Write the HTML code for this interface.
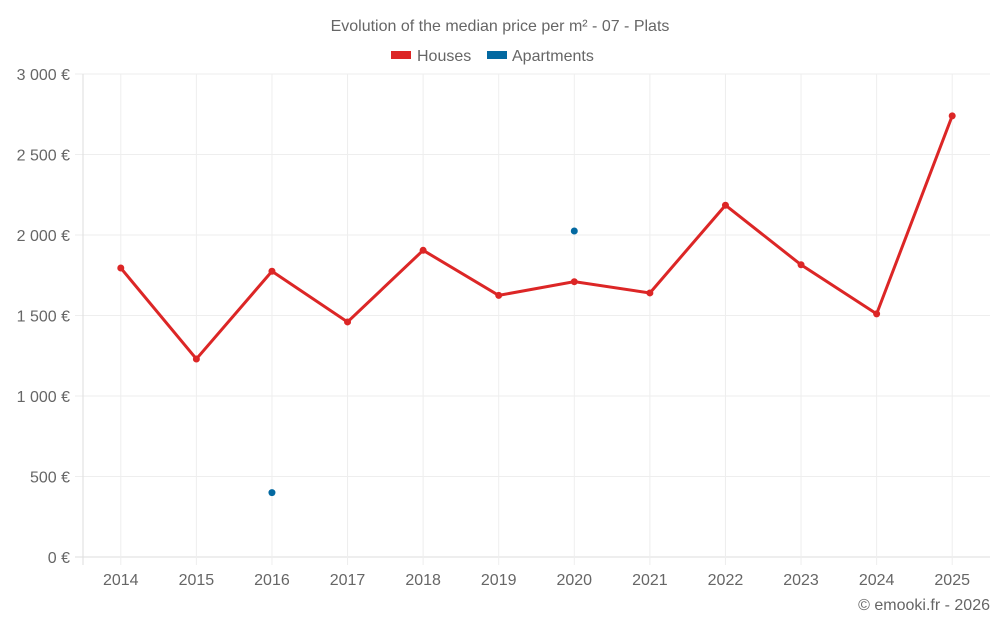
<!DOCTYPE html>
<html><head><meta charset="utf-8"><style>
body{margin:0;background:#fff;font-family:"Liberation Sans",sans-serif;}
svg text{font-family:"Liberation Sans",sans-serif;fill:#666;}
</style></head><body>
<svg id="c" width="1000" height="625">
<text x="500" y="31" text-anchor="middle" font-size="16">Evolution of the median price per m² - 07 - Plats</text>
<g><rect x="391" y="51" width="20" height="8" fill="#dc2626"/><text x="417" y="61" font-size="16">Houses</text></g>
<g><rect x="487" y="51" width="20" height="8" fill="#0369a1"/><text x="512" y="61" font-size="16">Apartments</text></g>
<g id="grid"></g><g id="marks"></g>
<text x="990" y="610" text-anchor="end" font-size="16">© emooki.fr - 2026</text>
</svg>
<script>
const categories=["2014","2015","2016","2017","2018","2019","2020","2021","2022","2023","2024","2025"];
const houses=[1795,1230,1775,1460,1905,1625,1710,1640,2185,1815,1510,2740];
const apartments=[null,null,400,null,null,null,2025,null,null,null,null,null];
const yTicks=[0,500,1000,1500,2000,2500,3000];
const yLabels=["0 €","500 €","1 000 €","1 500 €","2 000 €","2 500 €","3 000 €"];
const L=83,R=990,T=74,B=557,NS="http://www.w3.org/2000/svg";
const step=(R-L)/categories.length;
const x=i=>L+step*(i+0.5);
const y=v=>B-(v/3000)*(B-T);
const g=document.getElementById('grid'),m=document.getElementById('marks');
function el(t,a,p){const e=document.createElementNS(NS,t);for(const k in a)e.setAttribute(k,a[k]);p.appendChild(e);return e;}
yTicks.forEach((v,i)=>{
 const ln=el('line',{x1:L-8,x2:R,y1:y(v),y2:y(v),stroke:v===0?'#ddd':'#eee'},g);
 
 
 const t=el('text',{x:70,y:y(v)+6,'text-anchor':'end','font-size':16},g);t.textContent=yLabels[i];
 
 
});
el('line',{x1:L,x2:L,y1:T,y2:B+8,stroke:'#ddd'},g);
categories.forEach((c,i)=>{
 const ln=el('line',{x1:x(i),x2:x(i),y1:T,y2:B+8,stroke:'#eee'},g);
 
 
 const t=el('text',{x:x(i),y:585,'text-anchor':'middle','font-size':16},g);t.textContent=c;
 
 
});
const pl=el('polyline',{points:houses.map((v,i)=>x(i)+','+y(v)).join(' '),fill:'none',stroke:'#dc2626','stroke-width':3},m);


houses.forEach((v,i)=>{const p=el('circle',{cx:x(i),cy:y(v),r:3.5,fill:'#dc2626'},m);
 
 });
apartments.forEach((v,i)=>{if(v==null)return;const p=el('circle',{cx:x(i),cy:y(v),r:3.5,fill:'#0369a1'},m);
 
 });
</script>
</body></html>
